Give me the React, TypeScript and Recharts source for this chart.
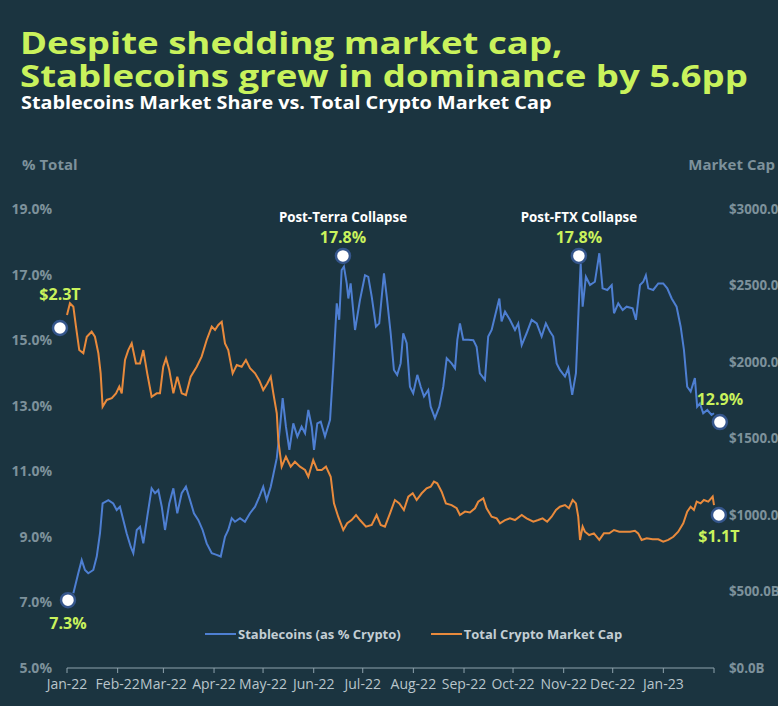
import React from "react";
import {
  LineChart,
  Line,
  XAxis,
  YAxis,
  Legend,
  ReferenceDot,
} from "recharts";

// stablecoins share of total crypto market cap (%), by day since 1 Jan 2022
const stableDays = [
  3.9, 6.9, 9.0, 11.0, 13.0, 16.1, 18.2, 20.2, 21.8, 25.3, 28.3, 30.4, 32.4, 34.5, 36.5, 39.0,
  40.6, 42.7, 44.7, 46.7, 49.1, 51.8, 53.9, 55.9, 58.0, 60.0, 62.6, 65.1, 67.5, 70.2, 72.8, 75.3,
  77.7, 80.4, 83.0, 85.5, 88.6, 91.6, 94.1, 96.7, 98.7, 100.8, 102.8, 105.9, 108.9, 112.0, 115.1,
  117.7, 120.1, 122.2, 124.7, 126.3, 128.4, 130.4, 132.0, 134.0, 136.1, 138.5, 141.0, 143.6,
  145.7, 147.7, 149.8, 151.2, 153.2, 155.3, 157.9, 161.0, 163.0, 165.1, 166.6, 168.1, 169.5,
  171.2, 172.2, 173.6, 176.3, 179.3, 182.4, 184.4, 186.5, 189.1, 191.1, 194.0, 195.7, 198.1,
  200.1, 202.1, 204.2, 205.8, 207.9, 209.9, 211.9, 214.4, 216.5, 218.5, 221.1, 222.6, 225.2,
  227.9, 230.3, 232.4, 235.4, 237.5, 238.9, 240.5, 242.5, 245.6, 248.7, 250.7, 252.7, 255.8,
  257.8, 259.9, 261.9, 264.6, 266.0, 268.1, 271.1, 274.2, 276.2, 278.3, 281.3, 284.4, 287.5,
  290.5, 293.1, 295.6, 297.6, 299.7, 301.7, 304.8, 306.8, 309.2, 311.5, 313.2, 314.4, 315.6,
  317.6, 320.1, 323.1, 325.8, 327.8, 330.7, 333.4, 334.8, 337.4, 340.1, 342.5, 346.2, 348.2,
  350.7, 352.7, 354.3, 355.8, 358.8, 361.9, 364.9, 367.4, 370.1, 373.1, 375.6, 377.6, 379.6,
  381.7, 384.3, 385.7, 387.4, 389.4, 391.9, 394.5, 396,
];
const stableShare = [
  7.28, 7.89, 8.29, 7.99, 7.89, 7.99, 8.4, 9.11, 10.02, 10.12, 10.02, 9.82, 9.92, 9.51, 9.11, 8.7,
  8.5, 9.21, 9.31, 8.8, 9.61, 10.48, 10.33, 10.43, 9.92, 9.21, 10.02, 10.48, 9.72, 10.33, 10.53, 10.12,
  9.72, 9.51, 9.21, 8.8, 8.5, 8.45, 8.4, 9.0, 9.21, 9.57, 9.46, 9.57, 9.46, 9.72, 9.92,
  10.22, 10.53, 10.12, 10.53, 10.9, 11.4, 12.36, 13.23, 12.36, 11.65, 12.46, 12.06, 12.36,
  12.16, 12.87, 12.36, 11.65, 12.46, 12.51, 12.06, 12.57, 14.19, 16.12, 15.62, 17.14, 17.24,
  16.73, 16.27, 16.73, 15.31, 16.22, 16.98, 16.93, 16.33, 15.41, 15.51, 17.04, 16.33, 15.21,
  14.09, 13.94, 14.29, 15.21, 14.91, 13.58, 13.38, 13.94, 13.58, 13.28, 13.48, 12.97, 12.62,
  12.97, 13.58, 14.45, 14.29, 14.14, 15.01, 15.51, 15.01, 15.01, 15.0, 14.8, 13.99, 13.79,
  15.11, 15.31, 15.72, 16.27, 15.57, 15.87, 15.62, 15.31, 15.51, 14.85, 15.21, 15.62, 15.51,
  15.11, 15.51, 15.26, 15.11, 14.29, 14.09, 13.89, 14.14, 13.33, 13.99, 16.02, 17.34, 16.02,
  16.93, 16.68, 16.78, 17.65, 16.58, 16.53, 16.68, 15.82, 16.12, 15.92, 16.02, 15.97, 15.62,
  16.68, 16.78, 16.98, 16.58, 16.53, 16.73, 16.73, 16.58, 16.27, 16.02, 15.41, 14.7, 13.58,
  13.43, 13.84, 12.97, 13.07, 12.77, 12.87, 12.72, 12.77,
];

// total crypto market cap ($B)
const capDays = [
  0, 1.8, 3.9, 5.5, 7.5, 10.0, 12.1, 15.1, 17.1, 19.2, 20.6, 21.8, 24.3, 27.4, 30.0, 32.0, 33.5,
  35.5, 37.5, 39.6, 42.2, 44.7, 46.7, 49.1, 51.8, 54.9, 56.9, 58.9, 60.6, 62.6, 65.1, 67.5, 70.2,
  72.8, 75.7, 79.4, 82.4, 85.5, 88.6, 90.6, 92.6, 94.7, 96.7, 98.7, 101.4, 103.9, 106.9, 109.5,
  112.0, 115.1, 117.7, 120.1, 122.6, 124.7, 126.3, 128.4, 129.3, 131.4, 134.0, 136.9, 139.5,
  142.6, 145.7, 147.7, 150.7, 153.2, 155.9, 158.5, 161.4, 163.4, 166.0, 169.1, 171.5, 174.2,
  176.9, 179.3, 183.0, 186.5, 189.5, 192.0, 194.6, 197.7, 200.7, 203.4, 206.2, 208.9, 211.6,
  214.0, 217.1, 220.1, 222.6, 224.6, 226.6, 229.3, 231.9, 235.4, 238.5, 240.5, 243.6, 246.6,
  249.7, 251.7, 254.8, 256.8, 259.9, 263.0, 265.0, 268.1, 271.1, 274.2, 278.3, 281.3, 285.4,
  288.4, 291.1, 293.9, 296.6, 299.3, 301.7, 304.8, 307.2, 309.5, 311.5, 312.9, 314.0, 315.6,
  317.0, 319.6, 322.5, 325.8, 328.6, 331.9, 334.8, 338.0, 341.5, 344.6, 347.6, 349.6, 351.7,
  354.8, 358.4, 361.9, 364.9, 368.0, 371.1, 374.1, 377.2, 379.6, 381.7, 383.7, 385.4, 387.8,
  389.8, 392.5, 395.2, 396,
];
const capValues = [
  2307, 2384, 2361, 2231, 2078, 2057, 2165, 2198, 2165, 2057, 1926, 1708, 1752, 1763, 1795, 1839, 1795,
  2013, 2078, 2122, 1991, 1991, 2078, 1926, 1773, 1795, 1795, 1969, 2024, 1948, 1795, 1904, 1795,
  1784, 1904, 1969, 2035, 2144, 2231, 2209, 2242, 2263, 2122, 2078, 1926, 1980, 1969, 2013,
  1959, 1926, 1880, 1817, 1860, 1904, 1795, 1665, 1490, 1316, 1381, 1316, 1348,
  1316, 1294, 1250, 1359, 1294, 1294, 1316, 1250, 1076, 989, 902, 946, 967,
  1000, 967, 924, 935, 1000, 935, 924, 1011, 1098, 1076, 1033, 1120, 1142,
  1098, 1142, 1174, 1185, 1218, 1207, 1152, 1076, 1065, 1044, 1000, 1022, 1016,
  1044, 1087, 1109, 1044, 989, 978, 946, 967, 978, 967, 1000, 978, 956,
  967, 978, 956, 989, 1033, 1054, 1065, 1044, 1098, 1076, 989, 837, 924,
  891, 869, 880, 837, 880, 880, 902, 891, 891, 891, 897, 880, 837,
  848, 841, 841, 826, 837, 858, 891, 946, 1022, 1054, 1033, 1087, 1076,
  1098, 1087, 1120, 1065,
];

// month ticks (days since 1 Jan 2022)
const monthTicks = [0, 31, 59, 90, 120, 151, 181, 212, 243, 273, 304, 334, 365, 396];
const monthLabels = [
  "Jan-22", "Feb-22", "Mar-22", "Apr-22", "May-22", "Jun-22", "Jul-22",
  "Aug-22", "Sep-22", "Oct-22", "Nov-22", "Dec-22", "Jan-23", "",
];
const shareTicks = [5, 7, 9, 11, 13, 15, 17, 19];
const capTicks = [0, 500, 1000, 1500, 2000, 2500, 3000];

const stableData = stableDays.map((day, i) => ({ day, value: stableShare[i] }));
const capData = capDays.map((day, i) => ({ day, value: capValues[i] }));

const BG = "#1b3440";
const YELLOW = "#c9f25c";
const BLUE = "#4e7fd2";
const ORANGE = "#e98a3c";
const AXIS_GRAY = "#7d919b";

const W = 778;
const H = 706;

// label drawn around a highlighted dot; dy values are baselines relative to the dot centre
const dotLabel =
  (value: string, valueDy: number, title?: string, titleDy?: number) => (props: any) => {
    const vb = props.viewBox || {};
    const cx = vb.x + vb.width / 2;
    const cy = vb.y + vb.height / 2;
    return (
      <g>
        {title && (
          <text x={cx} y={cy + (titleDy || 0)} textAnchor="middle" fill="#ffffff" fontSize={13.3} fontWeight={700}>
            {title}
          </text>
        )}
        <text x={cx} y={cy + valueDy} textAnchor="middle" fill={YELLOW} fontSize={16} fontWeight={700}>
          {value}
        </text>
      </g>
    );
  };

const dotStyle = { r: 7, fill: "#ffffff", stroke: "#35568c", strokeWidth: 2.5 };

const renderLegend = (props: any) => {
  const items = props.payload || [];
  return (
    <div style={{ display: "flex", alignItems: "center" }}>
      {items.map((item: any, i: number) => (
        <div key={i} style={{ display: "flex", alignItems: "center", marginRight: 30 }}>
          <svg width={31} height={4} style={{ marginRight: 2 }}>
            <line x1={0} y1={2} x2={31} y2={2} stroke={item.color} strokeWidth={2} />
          </svg>
          <span style={{ color: "#c3ced4", fontSize: 13, fontWeight: 700, lineHeight: "16px", whiteSpace: "nowrap" }}>
            {item.value}
          </span>
        </div>
      ))}
    </div>
  );
};

export default function App() {
  return (
    <div
      style={{
        position: "absolute",
        left: 0,
        top: 0,
        width: W,
        height: H,
        background: BG,
        overflow: "hidden",
        fontFamily: '"Open Sans", sans-serif',
      }}
    >
      <div style={{ position: "absolute", left: 0, top: 0 }}>
        <LineChart width={W} height={H} margin={{ top: 209, right: 0, bottom: 0, left: 0 }}>
          <XAxis
            type="number"
            dataKey="day"
            domain={[0, 396]}
            ticks={monthTicks}
            interval={0}
            tickFormatter={(v) => monthLabels[monthTicks.indexOf(v)] ?? ""}
            height={38}
            stroke="#8ea2ac"
            tickSize={5}
            tickMargin={6}
            tick={{ fill: "#b9c5cb", fontSize: 14 }}
          />
          <YAxis
            yAxisId="share"
            orientation="left"
            domain={[5, 19]}
            ticks={shareTicks}
            width={67}
            axisLine={false}
            tickLine={false}
            tickSize={0}
            tickMargin={15}
            tickFormatter={(v) => `${Number(v).toFixed(1)}%`}
            tick={{ fill: AXIS_GRAY, fontSize: 14, fontWeight: 700 }}
          />
          <YAxis
            yAxisId="cap"
            orientation="right"
            domain={[0, 3000]}
            ticks={capTicks}
            width={64}
            axisLine={false}
            tickLine={false}
            tickSize={0}
            tickMargin={15}
            tickFormatter={(v) => `$${Number(v).toFixed(1)}B`}
            tick={{ fill: AXIS_GRAY, fontSize: 13.3, fontWeight: 700, textAnchor: "start" }}
          />
          <Legend
            verticalAlign="middle"
            align="center"
            layout="horizontal"
            content={renderLegend}
            wrapperStyle={{ left: 205, top: 626, width: "auto" }}
          />
          <Line
            yAxisId="share"
            data={stableData}
            dataKey="value"
            name="Stablecoins (as % Crypto)"
            stroke={BLUE}
            strokeWidth={2}
            dot={false}
            isAnimationActive={false}
          />
          <Line
            yAxisId="cap"
            data={capData}
            dataKey="value"
            name="Total Crypto Market Cap"
            stroke={ORANGE}
            strokeWidth={2}
            dot={false}
            isAnimationActive={false}
          />
          <ReferenceDot yAxisId="cap" x={-4.3} y={2222} ifOverflow="visible" {...dotStyle} label={dotLabel("$2.3T", -28)} />
          <ReferenceDot yAxisId="share" x={0.6} y={7.07} ifOverflow="visible" {...dotStyle} label={dotLabel("7.3%", 28.5)} />
          <ReferenceDot
            yAxisId="share"
            x={168.9}
            y={17.57}
            ifOverflow="visible"
            {...dotStyle}
            label={dotLabel("17.8%", -13, "Post-Terra Collapse", -33.5)}
          />
          <ReferenceDot
            yAxisId="share"
            x={313.3}
            y={17.57}
            ifOverflow="visible"
            {...dotStyle}
            label={dotLabel("17.8%", -13, "Post-FTX Collapse", -33.5)}
          />
          <ReferenceDot yAxisId="share" x={399.6} y={12.5} ifOverflow="visible" {...dotStyle} label={dotLabel("12.9%", -17.5)} />
          <ReferenceDot yAxisId="cap" x={399} y={1000} ifOverflow="visible" {...dotStyle} label={dotLabel("$1.1T", 27)} />
        </LineChart>
      </div>

      <div
        style={{
          position: "absolute",
          left: 20,
          top: 25.5,
          fontSize: 31,
          lineHeight: "33px",
          fontWeight: 700,
          color: YELLOW,
          whiteSpace: "nowrap",
          transform: "scaleX(1.18)",
          transformOrigin: "0 0",
        }}
      >
        Despite shedding market cap,
        <br />
        Stablecoins grew in dominance by 5.6pp
      </div>
      <div
        style={{
          position: "absolute",
          left: 21,
          top: 91.7,
          fontSize: 18,
          lineHeight: "20px",
          fontWeight: 700,
          color: "#ffffff",
          whiteSpace: "nowrap",
          transform: "scaleX(1.1)",
          transformOrigin: "0 0",
        }}
      >
        Stablecoins Market Share vs. Total Crypto Market Cap
      </div>
      <div
        style={{
          position: "absolute",
          left: 22,
          top: 157,
          fontSize: 15,
          lineHeight: "15px",
          fontWeight: 700,
          color: AXIS_GRAY,
        }}
      >
        % Total
      </div>
      <div
        style={{
          position: "absolute",
          right: 3,
          top: 157,
          fontSize: 15,
          lineHeight: "15px",
          fontWeight: 700,
          color: AXIS_GRAY,
        }}
      >
        Market Cap
      </div>
    </div>
  );
}
